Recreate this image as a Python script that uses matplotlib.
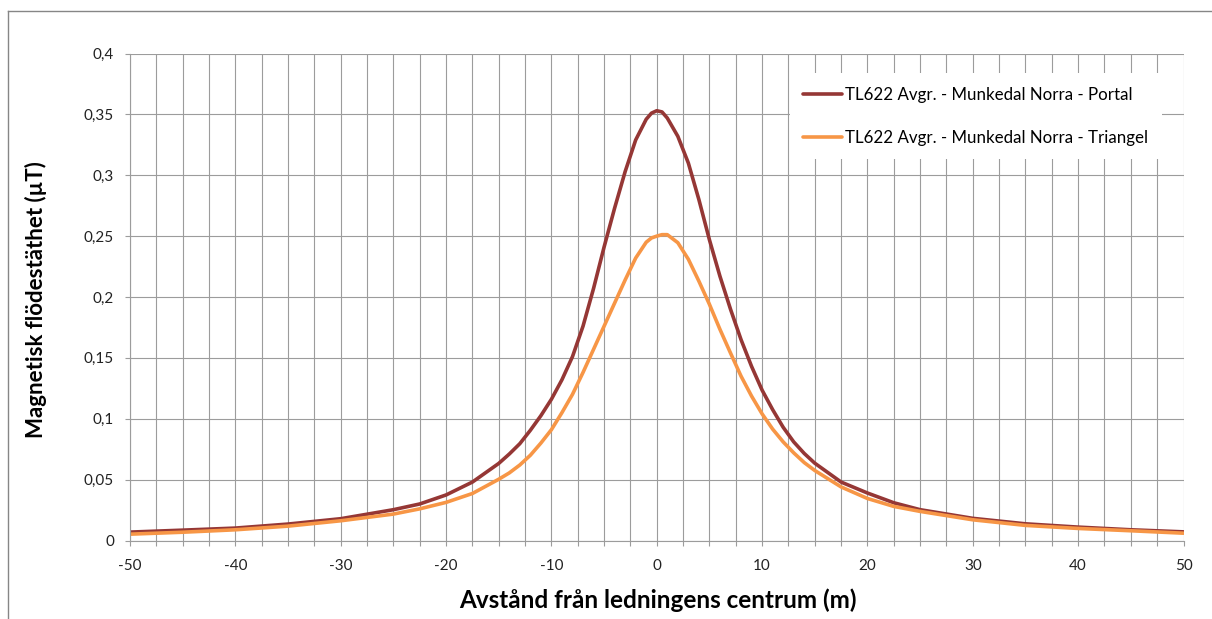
import numpy as np
import matplotlib
matplotlib.use('Agg')
import matplotlib.pyplot as plt
from matplotlib.ticker import MultipleLocator, FuncFormatter
from matplotlib.lines import Line2D

# Distance from line centre (m)
dist = [-50, -45, -40, -35, -30, -25, -22.5, -20, -17.5, -15, -14, -13, -12, -11,
        -10, -9, -8, -7, -6, -5, -4, -3, -2, -1, -0.5, 0, 0.5, 1, 2, 3, 4, 5, 6, 7, 8, 9,
        10, 11, 12, 13, 14, 15, 17.5, 20, 22.5, 25, 30, 35, 40, 45, 50]

# Magnetic flux density (uT)
portal = [0.0069, 0.0085, 0.0102, 0.0135, 0.0179, 0.0253, 0.0300, 0.0374, 0.0480, 0.0633,
          0.0710, 0.0795, 0.0905, 0.1025,
          0.1160, 0.1320, 0.1510, 0.1760, 0.2070, 0.2410, 0.2730, 0.3030, 0.3290, 0.3460,
          0.3510, 0.3530, 0.3520, 0.3470, 0.3320, 0.3100, 0.2800, 0.2470, 0.2170, 0.1900,
          0.1650, 0.1430,
          0.1235, 0.1075, 0.0930, 0.0810, 0.0715, 0.0635, 0.0480, 0.0390, 0.0310, 0.0253,
          0.0182, 0.0137, 0.0110, 0.0088, 0.0071]

triangel = [0.0052, 0.0068, 0.0088, 0.0118, 0.0162, 0.0217, 0.0260, 0.0313, 0.0386, 0.0503,
            0.0555, 0.0620, 0.0700, 0.0800,
            0.0910, 0.1050, 0.1200, 0.1380, 0.1570, 0.1760, 0.1950, 0.2140, 0.2320, 0.2450,
            0.2485, 0.2500, 0.2512, 0.2512, 0.2446, 0.2310, 0.2130, 0.1940, 0.1734, 0.1540,
            0.1350, 0.1186,
            0.1040, 0.0915, 0.0810, 0.0720, 0.0640, 0.0575, 0.0440, 0.0345, 0.0280, 0.0239,
            0.0170, 0.0124, 0.0099, 0.0080, 0.0060]

series_names = ['TL622 Avgr. - Munkedal Norra - Portal',
                'TL622 Avgr. - Munkedal Norra - Triangel']
colors = ['#953735', '#F79646']

W, H = 1212, 619
plt.rcParams['font.family'] = ['Lato', 'DejaVu Sans']
plt.rcParams['axes.unicode_minus'] = False

fig = plt.figure(figsize=(W / 100, H / 100), dpi=100)
ax = fig.add_axes([130 / W, 1 - 540.5 / H, (1183.5 - 130) / W, (540.5 - 53.5) / H])

ax.plot(dist, portal, color=colors[0], lw=2.6, label=series_names[0], solid_capstyle='round')
ax.plot(dist, triangel, color=colors[1], lw=2.6, label=series_names[1], solid_capstyle='round')

ax.set_xlim(-50, 50)
ax.set_ylim(0, 0.4)

# ticks and grid
grid_col = '#9c9c9c'
ax.xaxis.set_major_locator(MultipleLocator(10))
ax.xaxis.set_minor_locator(MultipleLocator(2.5))
ax.yaxis.set_major_locator(MultipleLocator(0.05))
ax.yaxis.set_major_formatter(FuncFormatter(lambda v, p: ('%g' % round(v, 2)).replace('.', ',')))
ax.tick_params(axis='both', which='both', direction='out', length=3.6, width=0.8,
               color=grid_col, labelsize=11, labelcolor='#222222')
ax.tick_params(axis='x', which='major', pad=10)
ax.tick_params(axis='y', which='major', pad=8)
ax.tick_params(axis='y', which='minor', left=False)
ax.grid(True, which='both', color=grid_col, lw=0.8)
ax.set_axisbelow(True)
for side in ['top', 'right']:
    ax.spines[side].set_visible(False)
for side in ['left', 'bottom']:
    ax.spines[side].set_color(grid_col)
    ax.spines[side].set_linewidth(0.8)

# axis titles
fig.text(36 / W, 1 - 300 / H, 'Magnetisk flödestäthet (µT)', rotation=90,
         ha='center', va='center', fontsize=16, fontweight='bold')
fig.text(658 / W, 1 - 600 / H, 'Avstånd från ledningens centrum (m)',
         ha='center', va='center', fontsize=17.5, fontweight='bold')

leg = ax.legend(loc='upper right', bbox_to_anchor=(1162 / W, 1 - 73 / H),
                bbox_transform=fig.transFigure, borderaxespad=0, frameon=True,
                fancybox=False, framealpha=1, edgecolor='none', facecolor='white',
                fontsize=12.2, handlelength=2.3, handletextpad=0.2, labelspacing=1.6,
                borderpad=0.8)
leg.set_zorder(5)

# outer chart border (cropped on right and bottom)
fig.add_artist(Line2D([8 / W, 8 / W], [0, 1 - 11 / H], transform=fig.transFigure,
                      color='#868686', lw=1))
fig.add_artist(Line2D([8 / W, 1], [1 - 11 / H, 1 - 11 / H], transform=fig.transFigure,
                      color='#868686', lw=1))

fig.savefig('out.png', dpi=100)
